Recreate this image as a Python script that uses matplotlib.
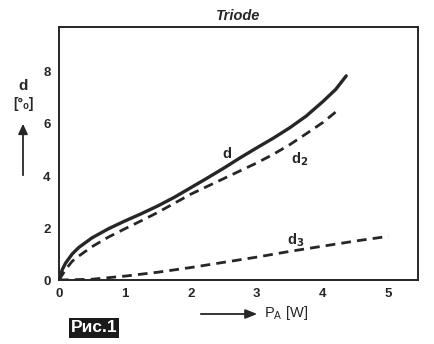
import numpy as np
import matplotlib
matplotlib.use("Agg")
import matplotlib.pyplot as plt

# Distortion vs anode power for a triode stage
p_d = [0, 0.05, 0.1, 0.2, 0.3, 0.5, 0.75, 1.0, 1.25, 1.5, 1.75, 2.0, 2.25, 2.5, 2.75,
       3.0, 3.25, 3.5, 3.75, 4.0, 4.2, 4.36]
d_total = [0, 0.4, 0.65, 1.0, 1.25, 1.62, 1.97, 2.27, 2.55, 2.85, 3.18, 3.55, 3.92, 4.3, 4.7,
           5.08, 5.45, 5.85, 6.3, 6.85, 7.33, 7.85]

p_d2 = [0, 0.1, 0.2, 0.3, 0.5, 0.75, 1.0, 1.25, 1.5, 1.75, 2.0, 2.25, 2.5, 2.75,
        3.0, 3.25, 3.5, 3.75, 4.0, 4.2]
d_2 = [0, 0.4, 0.72, 0.92, 1.28, 1.65, 1.97, 2.28, 2.6, 2.95, 3.3, 3.6, 3.9, 4.2,
       4.5, 4.83, 5.2, 5.62, 6.05, 6.46]

p_d3 = [0, 0.5, 1.0, 1.5, 2.0, 2.5, 3.0, 3.5, 4.0, 4.5, 5.0]
d_3 = [0, 0.03, 0.15, 0.3, 0.48, 0.68, 0.88, 1.1, 1.3, 1.5, 1.68]

x_ticks = [0, 1, 2, 3, 4, 5]
y_ticks = [0, 2, 4, 6, 8]

plt.rcParams['font.family'] = ['Liberation Sans', 'DejaVu Sans']

fig = plt.figure(figsize=(4.35, 3.44), dpi=100)
ax = fig.add_axes([0.1356, 0.186, 0.961 - 0.1356, 0.9215 - 0.186])

ink = '#262626'
ax.plot(p_d, d_total, color=ink, lw=2.4, solid_capstyle='round', solid_joinstyle='round')
ax.plot(p_d2, d_2, color=ink, lw=2.0, dashes=(3.5, 2.2))
ax.plot(p_d3, d_3, color=ink, lw=2.0, dashes=(3.5, 2.2))

ax.set_xlim(0, 5.45)
ax.set_ylim(0, 9.73)
ax.set_xticks(x_ticks)
ax.set_yticks(y_ticks)
ax.tick_params(length=0, pad=6, labelsize=9.5, colors=ink)
for lbl in ax.get_xticklabels() + ax.get_yticklabels():
    lbl.set_fontweight('bold')
for s in ax.spines.values():
    s.set_color(ink)
    s.set_linewidth(1.4)

ax.set_title('Triode', fontsize=10.5, fontweight='bold', style='italic', color=ink, pad=5)

# curve labels
ax.text(2.55, 4.85, 'd', fontsize=10.5, fontweight='bold', color=ink, ha='center', va='center')
ax.text(3.65, 4.65, 'd$_\\mathbf{2}$', fontsize=10.5, fontweight='bold', color=ink, ha='center', va='center')
ax.text(3.6, 1.55, 'd$_\\mathbf{3}$', fontsize=10.5, fontweight='bold', color=ink, ha='center', va='center')

# axis captions with arrows
fig.text(23 / 435, 1 - 86 / 344, 'd', fontsize=11, fontweight='bold', color=ink, ha='center', va='center')
fig.text(23 / 435, 1 - 104 / 344, '[°ₒ]', fontsize=10, fontweight='bold', color=ink, ha='center', va='center')
fig.patches.append(matplotlib.patches.FancyArrowPatch(
    (23 / 435, 1 - 178 / 344), (23 / 435, 1 - 121 / 344), transform=fig.transFigure,
    arrowstyle='-|>,head_length=6,head_width=2.8', color=ink, lw=1.3))
fig.patches.append(matplotlib.patches.FancyArrowPatch(
    (198 / 435, 1 - 314 / 344), (260 / 435, 1 - 314 / 344), transform=fig.transFigure,
    arrowstyle='-|>,head_length=7,head_width=2.8', color=ink, lw=1.3))
fig.text(264 / 435, 1 - 313 / 344, 'P$_\\mathregular{A}$ [W]', fontsize=10.5, color=ink, ha='left', va='center')

fig.text(94 / 435, 1 - 328 / 344, 'Рис.1', fontsize=12.5, fontweight='bold', color='white',
         ha='center', va='center',
         bbox=dict(boxstyle='square,pad=0.12', facecolor='#1a1a1a', edgecolor='none'))

fig.savefig('out.png', dpi=100)
